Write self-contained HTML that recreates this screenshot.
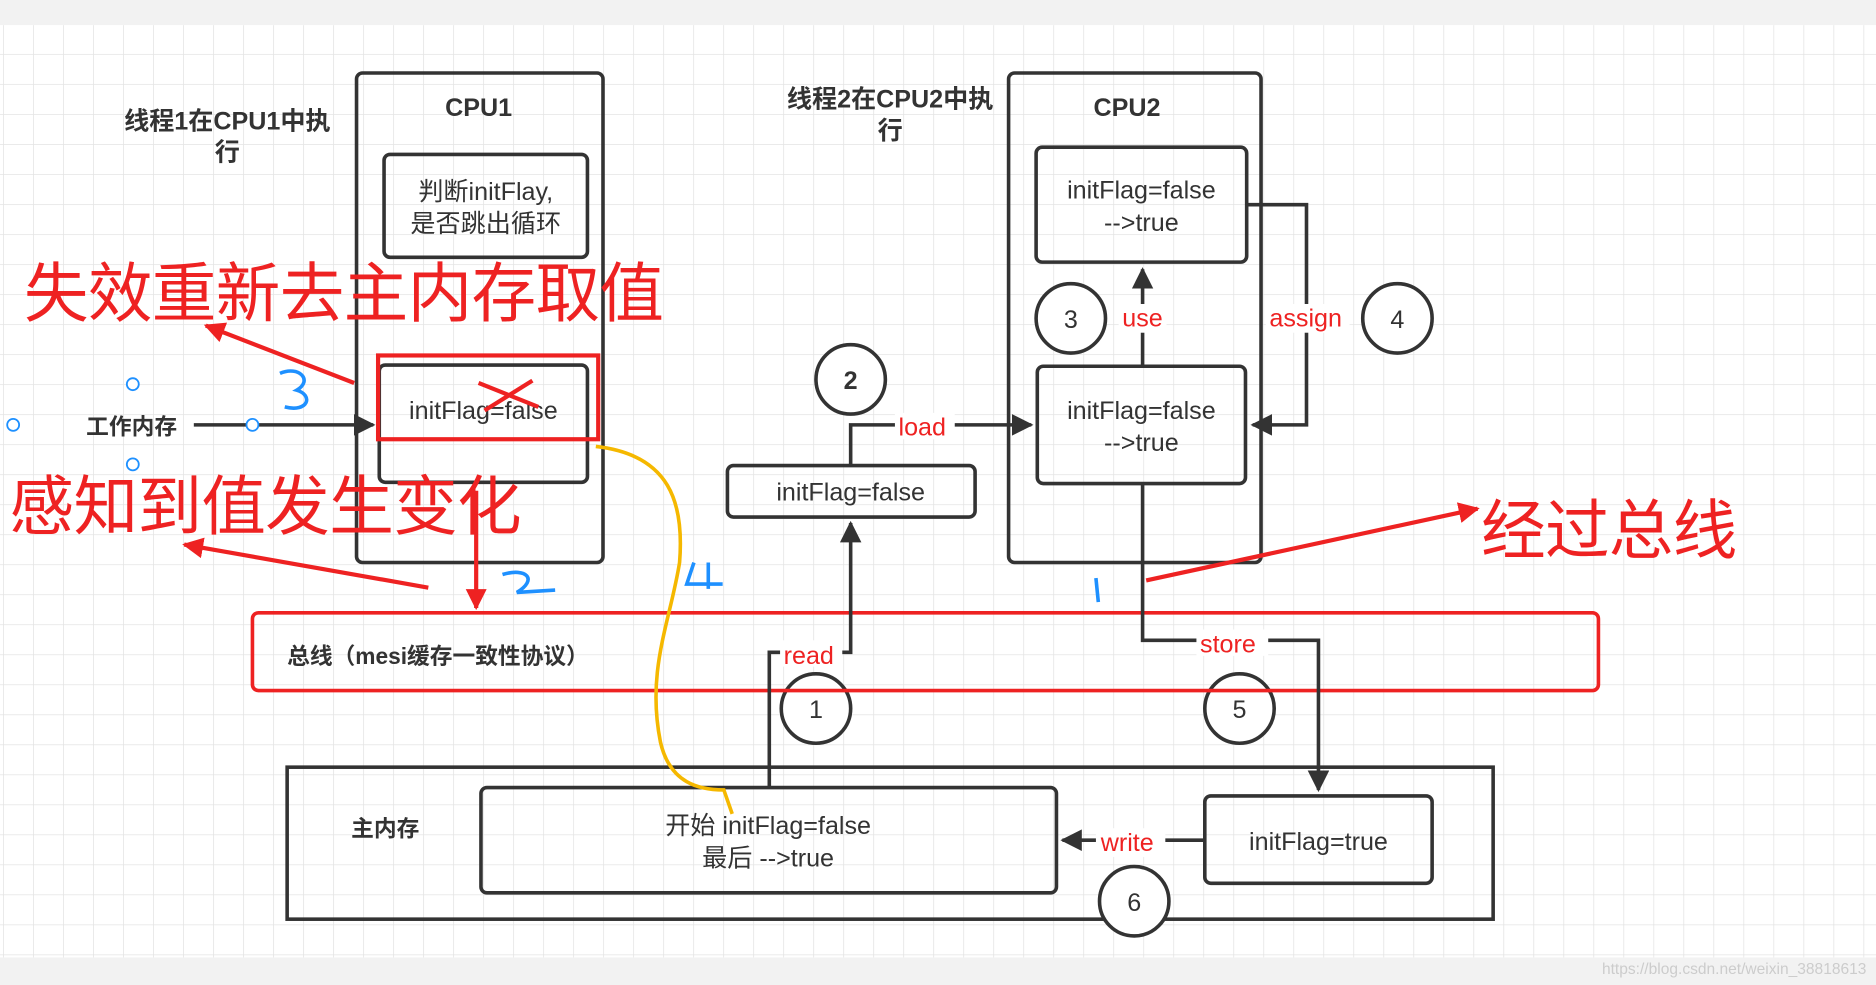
<!DOCTYPE html>
<html><head><meta charset="utf-8"><style>
html,body{margin:0;padding:0;width:1876px;height:985px;overflow:hidden;background:#fff}
svg{display:block}
text{font-family:"Liberation Sans","Noto Sans CJK SC",sans-serif}
</style></head><body>
<svg width="1876" height="985" viewBox="0 0 1568 823" preserveAspectRatio="none">
<defs>
<pattern id="g" x="2.5" y="20" width="25.08" height="25.08" patternUnits="userSpaceOnUse">
<path d="M0 0H25.08M0 0V25.08" stroke="#e4e4e4" stroke-width="1.3" fill="none"/>
</pattern>
<marker id="a" viewBox="0 0 10 10" refX="9" refY="5" markerWidth="6" markerHeight="6" orient="auto"><path d="M0 0L10 5L0 10z" fill="#333"/></marker>
<marker id="r" viewBox="0 0 10 10" refX="9" refY="5" markerWidth="5" markerHeight="5" orient="auto"><path d="M0 0L10 5L0 10z" fill="#e22"/></marker>
</defs>
<rect width="1568" height="823" fill="#fff"/>
<rect y="21" width="1568" height="779" fill="url(#g)"/>
<rect width="1568" height="21" fill="#f2f2f2"/>
<rect y="800" width="1568" height="23" fill="#f2f2f2"/>
<g fill="none" stroke="#333" stroke-width="3">
<rect x="298" y="61" width="206" height="409" rx="5"/>
<rect x="321" y="129" width="170" height="86" rx="5"/>
<rect x="317" y="305" width="174" height="98" rx="5"/>
<rect x="843" y="61" width="211" height="409" rx="5"/>
<rect x="866" y="123" width="176" height="96" rx="5"/>
<rect x="867" y="306" width="174" height="98" rx="5"/>
<rect x="608" y="389" width="207" height="43" rx="5"/>
<rect x="240" y="641" width="1008" height="127"/>
<rect x="402" y="658" width="481" height="88" rx="5"/>
<rect x="1007" y="665" width="190" height="73" rx="5"/>
<circle cx="711" cy="317" r="29" fill="#fff"/>
<circle cx="895" cy="266" r="29" fill="#fff"/>
<circle cx="1168" cy="266" r="29" fill="#fff"/>
<circle cx="682" cy="592" r="29" fill="#fff"/>
<circle cx="1036" cy="592" r="29" fill="#fff"/>
<circle cx="948" cy="753" r="29" fill="#fff"/>
</g>
<rect x="211" y="512" width="1125" height="65" rx="5" fill="none" stroke="#e22" stroke-width="3"/>
<rect x="316" y="297" width="184" height="70" fill="none" stroke="#e22" stroke-width="3.5"/>
<g fill="none" stroke="#333" stroke-width="3">
<path d="M162 355H312" marker-end="url(#a)"/>
<path d="M711 389V355H862" marker-end="url(#a)"/>
<path d="M955 306V225" marker-end="url(#a)"/>
<path d="M1042 171H1092V355H1047" marker-end="url(#a)"/>
<path d="M643 658V545H711V437" marker-end="url(#a)"/>
<path d="M955 404V535H1102V660" marker-end="url(#a)"/>
<path d="M1007 702H888" marker-end="url(#a)"/>
</g>
<g fill="#fff"><rect x="748" y="345" width="50" height="22"/><rect x="935" y="254" width="40" height="24"/><rect x="1058" y="254" width="70" height="24"/><rect x="652" y="535" width="52" height="22"/><rect x="1000" y="526" width="60" height="22"/><rect x="916" y="692" width="58" height="24"/></g>
<g fill="#e22" font-size="21">
<text x="751" y="364">load</text><text x="938" y="273">use</text><text x="1061" y="273">assign</text>
<text x="655" y="555">read</text><text x="1003" y="545">store</text><text x="920" y="711">write</text>
</g>
<g fill="#333" font-size="21" text-anchor="middle">
<text x="711" y="325" font-weight="bold">2</text><text x="895" y="274">3</text><text x="1168" y="274">4</text>
<text x="682" y="600">1</text><text x="1036" y="600">5</text><text x="948" y="761">6</text>
<text x="400" y="97" font-weight="bold">CPU1</text><text x="942" y="97" font-weight="bold">CPU2</text>
<text x="190" y="108" font-weight="bold">线程1在CPU1中执</text><text x="190" y="134" font-weight="bold">行</text>
<text x="744" y="90" font-weight="bold">线程2在CPU2中执</text><text x="744" y="116" font-weight="bold">行</text>
<text x="406" y="167">判断initFlay,</text><text x="406" y="194">是否跳出循环</text>
<text x="404" y="350">initFlag=false</text>
<text x="954" y="166">initFlag=false</text><text x="954" y="193">-->true</text>
<text x="954" y="350">initFlag=false</text><text x="954" y="377">-->true</text>
<text x="711" y="418">initFlag=false</text>
<text x="642" y="697">开始 initFlag=false</text><text x="642" y="724">最后 -->true</text>
<text x="1102" y="710">initFlag=true</text>
<text x="110" y="363" font-weight="bold" font-size="19">工作内存</text>
<text x="322" y="699" font-weight="bold" font-size="19">主内存</text>
</g>
<text x="240" y="555" fill="#333" font-size="19" font-weight="bold">总线（mesi缓存一致性协议）</text>
<g fill="#e22" font-size="54">
<text x="20" y="264" textLength="535">失效重新去主内存取值</text>
<text x="8" y="442" textLength="428">感知到值发生变化</text>
<text x="1238" y="462" textLength="214">经过总线</text>
</g>
<g stroke="#e22" stroke-width="3.5" fill="none">
<path d="M296 320L172 272" marker-end="url(#r)"/>
<path d="M358 491L154 455" marker-end="url(#r)"/>
<path d="M958 485L1235 425" marker-end="url(#r)"/>
<path d="M398 410V508" marker-end="url(#r)"/>
<path d="M400 320L450 340M445 318L405 343" stroke-width="3.5"/>
</g>
<path d="M498 373C560 380 572 420 568 470C560 520 540 560 552 620C560 655 585 660 605 660L612 680" stroke="#f5b800" stroke-width="3" fill="none"/>
<g stroke="#1e90ff" stroke-width="3" fill="none">
<path d="M234 312C250 305 262 318 248 326C262 330 258 345 238 340"/>
<path d="M420 480C440 474 450 484 432 495L464 493"/>
<path d="M580 470L574 488H604M592 470V492"/>
<path d="M916 483L918 503"/>
</g>
<g fill="#fff" stroke="#1e90ff" stroke-width="1.5"><circle cx="111" cy="321" r="5"/><circle cx="11" cy="355" r="5"/><circle cx="211" cy="355" r="5"/><circle cx="111" cy="388" r="5"/></g>
<text x="1560" y="814" fill="#ccc" font-size="13" text-anchor="end">https://blog.csdn.net/weixin_38818613</text>
</svg>
</body></html>
